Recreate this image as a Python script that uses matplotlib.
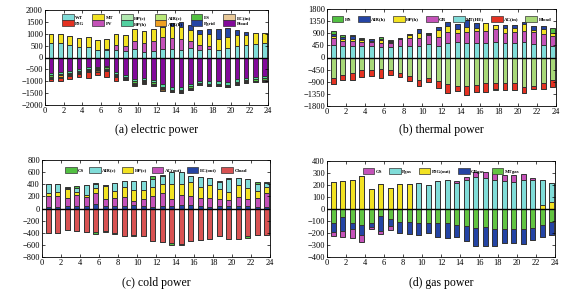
import numpy as np
import matplotlib
matplotlib.use("Agg")
import matplotlib.pyplot as plt
from matplotlib.patches import Patch

plt.rcParams['font.family'] = ['Liberation Serif', 'DejaVu Serif']

hours = np.arange(1, 25)

# ---------------- (a) electric power ----------------
e_WT = [600, 620, 520, 450, 450, 320, 300, 320, 280, 350, 250, 270, 350, 350, 330, 380, 320, 350, 330, 380, 480, 520, 580, 600]
e_PV = [0, 0, 0, 0, 0, 0, 50, 200, 200, 350, 370, 430, 500, 480, 470, 320, 200, 150, 0, 0, 0, 0, 0, 0]
e_MT = [400, 350, 380, 380, 400, 400, 450, 480, 480, 480, 500, 480, 450, 480, 500, 450, 450, 500, 450, 480, 480, 420, 450, 450]
e_Pgrid = [0, 0, 0, 0, 0, 0, 0, 0, 0, 0, 0, 0, 100, 150, 180, 230, 200, 200, 430, 400, 180, 130, 0, 0]
e_Pload = [650, 620, 560, 480, 420, 380, 360, 600, 750, 900, 850, 950, 1100, 1250, 1250, 1100, 1000, 1000, 1000, 1050, 900, 850, 820, 780]
e_HPh = [100, 80, 80, 80, 60, 60, 60, 80, 80, 100, 100, 100, 130, 100, 100, 120, 80, 100, 110, 110, 120, 100, 100, 100]
e_ES = [50, 50, 50, 50, 50, 50, 50, 50, 50, 60, 60, 50, 60, 50, 60, 60, 40, 40, 40, 40, 50, 50, 50, 60]
e_AIRh = [50, 50, 50, 50, 50, 50, 50, 50, 30, 40, 40, 40, 50, 40, 40, 50, 30, 30, 30, 30, 40, 40, 40, 40]
e_ECin = [50, 50, 50, 50, 50, 50, 50, 50, 30, 40, 40, 40, 60, 20, 30, 50, 20, 30, 30, 30, 30, 30, 20, 20]
e_P2G = [100, 120, 110, 120, 220, 130, 230, 170, 20, 40, 30, 0, 0, 0, 0, 0, 0, 0, 0, 0, 0, 0, 0, 50]

# ---------------- (b) thermal power ----------------
t_MTHE = [480, 420, 430, 420, 430, 380, 380, 420, 440, 420, 500, 420, 520, 560, 550, 520, 520, 560, 520, 520, 560, 500, 450, 420]
t_GB = [250, 180, 170, 170, 130, 160, 170, 250, 300, 300, 320, 350, 420, 340, 400, 460, 480, 480, 380, 430, 430, 460, 420, 380]
t_HPh = [80, 80, 100, 50, 40, 120, 40, 30, 80, 180, 60, 250, 240, 150, 200, 130, 280, 150, 200, 150, 250, 70, 200, 120]
t_AIRh = [50, 80, 80, 50, 70, 40, 30, 20, 60, 150, 40, 130, 120, 200, 230, 170, 0, 30, 100, 120, 60, 150, 90, 0]
t_HS = [130, 70, 50, 30, 30, 50, 30, 0, 0, 0, 0, 0, 0, 0, 0, 0, 0, 0, 0, 0, 0, 0, 0, 160]
t_Hload = [750, 650, 580, 460, 450, 440, 450, 560, 690, 820, 760, 880, 1000, 1050, 1070, 1030, 930, 950, 940, 950, 1080, 1050, 950, 830]
t_ACin = [240, 180, 250, 260, 250, 310, 200, 160, 190, 230, 160, 270, 300, 200, 310, 250, 350, 220, 260, 270, 220, 130, 210, 250]
t_HSneg = [0, 0, 0, 0, 0, 0, 0, 0, 0, 0, 0, 0, 0, 0, 0, 0, 0, 50, 0, 0, 0, 0, 0, 0]

# ---------------- (c) cold power ----------------
c_EC = [30, 30, 40, 40, 40, 70, 40, 40, 40, 50, 40, 30, 40, 40, 50, 60, 40, 30, 40, 40, 40, 40, 30, 30]
c_AC = [180, 170, 130, 180, 150, 190, 120, 140, 150, 80, 120, 180, 220, 110, 180, 150, 130, 150, 110, 100, 150, 120, 150, 230]
c_HP = [50, 80, 150, 60, 40, 80, 210, 110, 160, 170, 140, 150, 150, 250, 180, 220, 190, 200, 170, 130, 190, 170, 110, 90]
c_AIR = [150, 130, 20, 60, 150, 60, 10, 130, 110, 160, 150, 130, 120, 200, 190, 110, 160, 130, 120, 210, 120, 150, 120, 70]
c_CS = [0, 0, 20, 30, 0, 20, 0, 0, 0, 0, 0, 40, 20, 0, 0, 0, 0, 0, 20, 20, 0, 0, 30, 20]
c_Cload = [410, 410, 360, 370, 380, 390, 370, 400, 450, 440, 450, 530, 550, 570, 590, 540, 520, 510, 460, 500, 500, 460, 440, 440]
c_CSneg = [0, 0, 0, 0, 0, 30, 10, 20, 0, 20, 0, 0, 0, 30, 10, 0, 0, 0, 0, 0, 0, 20, 0, 0]

# ---------------- (d) gas power ----------------
g_P2G = [225, 230, 240, 278, 170, 205, 175, 205, 205, 0, 0, 0, 0, 0, 0, 0, 0, 0, 0, 0, 0, 0, 30, 60]
g_Pgas = [0, 0, 0, 0, 0, 0, 0, 0, 0, 220, 200, 235, 245, 215, 240, 270, 260, 245, 235, 225, 245, 240, 210, 155]
g_GS = [0, 0, 0, 0, 0, 0, 0, 0, 0, 0, 0, 0, 0, 15, 25, 40, 45, 60, 45, 60, 45, 15, 0, 0]
g_MT = [115, 70, 120, 135, 120, 55, 85, 105, 110, 120, 120, 120, 120, 130, 145, 155, 150, 165, 165, 170, 165, 155, 130, 105]
g_GB = [75, 110, 50, 80, 30, 130, 55, 95, 95, 100, 80, 115, 125, 100, 120, 155, 155, 140, 115, 115, 125, 100, 105, 110]
g_GSneg = [35, 50, 70, 60, 20, 20, 35, 0, 0, 0, 0, 0, 0, 0, 0, 0, 0, 0, 0, 0, 0, 0, 0, 0]

CYAN = '#80dcd8'
YEL = '#f2e222'
MAG = '#c452b8'
BLUE = '#2444a4'
GRN = '#52c042'
RED = '#e43222'

W, H = 576, 301
fig = plt.figure(figsize=(W / 100, H / 100), dpi=100)

def make_ax(l, r, t, b):
    return fig.add_axes([l / W, 1 - b / H, (r - l) / W, (b - t) / H])

def stack(ax, pos, neg):
    x = hours - 0.35
    base = np.zeros(24)
    for vals, col in pos:
        v = np.array(vals, float)
        ax.bar(x, v, 0.5, bottom=base, color=col, edgecolor='#333333', linewidth=0.7)
        base += v
    base = np.zeros(24)
    for vals, col in neg:
        v = -np.array(vals, float)
        ax.bar(x, v, 0.5, bottom=base, color=col, edgecolor='#333333', linewidth=0.7)
        base += v

def style(ax, lim, step):
    ax.set_xlim(0, 24)
    ax.set_ylim(-lim, lim)
    ax.set_xticks(np.arange(0, 25, 2))
    ax.set_yticks(np.arange(-lim, lim + 1, step))
    ax.tick_params(labelsize=6, direction='in', length=2, width=0.5, top=True, right=True, pad=1.5)
    ax.axhline(0, color='black', lw=1.0, zorder=5)
    for s in ax.spines.values():
        s.set_linewidth(0.6)

def legend(ax, items, ncol, y=1.0, cs=1.6):
    handles = [Patch(facecolor=c, edgecolor='#333333', linewidth=0.5, label=l) for l, c in items]
    ax.legend(handles=handles, ncol=ncol, loc='upper center', bbox_to_anchor=(0.5, y),
              frameon=False, handlelength=2.4, handleheight=1.3,
              columnspacing=cs, handletextpad=0.3, labelspacing=0.15,
              prop={'size': 3.5, 'weight': 'bold'})

# (a)
axa = make_ax(45, 268, 10, 105)
stack(axa,
      [(e_WT, CYAN), (e_PV, MAG), (e_MT, YEL), (e_Pgrid, BLUE)],
      [(e_Pload, '#820a9a'), (e_HPh, '#52d0a0'), (e_ES, GRN), (e_AIRh, '#f0a020'), (e_ECin, '#7a5a30'), (e_P2G, RED)])
style(axa, 2000, 500)
legend(axa, [('WT', CYAN), ('P2G', RED), ('MT', YEL), ('PV', MAG), ('HP(c)', '#b0e8b0'), ('HP(h)', '#52d0a0'),
             ('AIR(c)', '#b8e878'), ('AIR(h)', '#f0a020'), ('ES', GRN), ('Pgrid', BLUE), ('EC(in)', '#e8c898'), ('Pload', '#820a9a')], 6)

# (b)
axb = make_ax(327, 556, 9, 106)
stack(axb,
      [(t_MTHE, CYAN), (t_GB, MAG), (t_HPh, YEL), (t_AIRh, BLUE), (t_HS, GRN)],
      [(t_Hload, '#a8d878'), (t_ACin, RED), (t_HSneg, GRN)])
style(axb, 1800, 450)
legend(axb, [('HS', GRN), ('AIR(h)', BLUE), ('HP(h)', YEL), ('GB', MAG), ('MT(HE)', CYAN), ('AC(in)', RED), ('Hload', '#a8d878')], 7, y=0.97, cs=1.4)

# (c)
axc = make_ax(42, 270, 160, 257)
stack(axc,
      [(c_EC, BLUE), (c_AC, MAG), (c_HP, YEL), (c_AIR, CYAN), (c_CS, GRN)],
      [(c_Cload, '#d85252'), (c_CSneg, GRN)])
style(axc, 800, 200)
legend(axc, [('CS', GRN), ('AIR(c)', CYAN), ('HP(c)', YEL), ('AC(out)', MAG), ('EC(out)', BLUE), ('Cload', '#d85252')], 6, y=0.97, cs=1.0)

# (d)
axd = make_ax(327, 555, 161, 257)
stack(axd,
      [(g_P2G, YEL), (g_Pgas, CYAN), (g_GS, MAG)],
      [(g_MT, '#62c442'), (g_GB, BLUE), (g_GSneg, MAG)])
style(axd, 400, 100)
legend(axd, [('GS', MAG), ('Pgas', CYAN), ('P2G(out)', YEL), ('GBgas', BLUE), ('MTgas', '#62c442')], 5, y=0.97, cs=1.4)

fig.text(157 / W, 1 - 130 / H, '(a) electric power', ha='center', va='center', fontsize=8.5)
fig.text(441 / W, 1 - 130 / H, '(b) thermal power', ha='center', va='center', fontsize=8.5)
fig.text(156 / W, 1 - 283 / H, '(c) cold power', ha='center', va='center', fontsize=8.5)
fig.text(441 / W, 1 - 283 / H, '(d) gas power', ha='center', va='center', fontsize=8.5)

fig.savefig('out.png', dpi=100)
